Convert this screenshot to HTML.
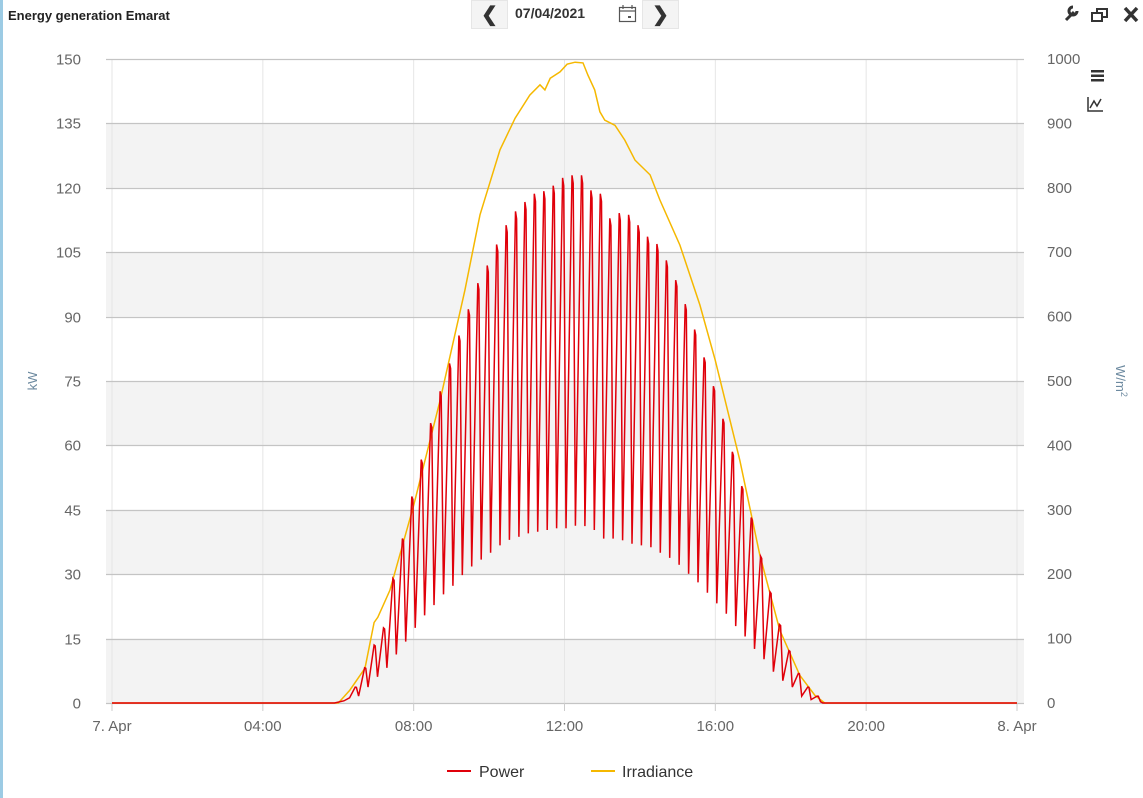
<!DOCTYPE html>
<html><head><meta charset="utf-8"><style>
body{margin:0;width:1143px;height:798px;overflow:hidden;background:#fff;font-family:"Liberation Sans",sans-serif;position:relative}
.bar{position:absolute;left:0;top:0;width:3px;height:798px;background:#9ccbe4}
.title{position:absolute;left:8px;top:8px;font-size:13px;font-weight:bold;color:#222}
.btn{position:absolute;top:0;width:37px;height:29px;background:#f4f4f4;border:1px solid #e6e6e6;box-sizing:border-box;text-align:center;font-size:20px;line-height:28px;color:#333;font-weight:bold}
.date{position:absolute;left:515px;top:5px;font-size:14px;font-weight:bold;color:#333}
svg{position:absolute;left:0;top:0}
</style></head><body>
<div class="bar"></div>
<div class="title">Energy generation Emarat</div>
<div class="btn" style="left:471px">&#10094;</div>
<div class="date">07/04/2021</div>
<div class="btn" style="left:642px">&#10095;</div>
<svg width="1143" height="798" id="chart">
<g fill="none" stroke="#555" stroke-width="1.2">
<rect x="619.5" y="7.5" width="16" height="14"/><line x1="619.5" y1="11" x2="635.5" y2="11"/><line x1="623" y1="5" x2="623" y2="9"/><line x1="632" y1="5" x2="632" y2="9"/><rect x="628" y="16" width="3" height="2" fill="#555" stroke="none"/></g>
<g><path d="M1066 20 L1074 12 M1073 7 a4 4 0 1 0 4 4" stroke="#333" stroke-width="3" fill="none"/></g>
<g fill="none" stroke="#333" stroke-width="2"><rect x="1097" y="9" width="10" height="8"/><rect x="1092" y="13" width="10" height="8" fill="#fff"/></g>
<g stroke="#333" stroke-width="3.5"><line x1="1125" y1="8" x2="1137" y2="21"/><line x1="1137" y1="8" x2="1125" y2="21"/></g>
<g fill="#333"><rect x="1091" y="70" width="13" height="2.5"/><rect x="1091" y="74.5" width="13" height="2.5"/><rect x="1091" y="79" width="13" height="2.5"/></g>
<g fill="none" stroke="#333" stroke-width="1.5"><path d="M1088 97 V111 H1103"/><path d="M1090 108 L1094 101 L1097 106 L1101 99"/></g>
</svg>
<script>
const leftTicks=[0,15,30,45,60,75,90,105,120,135,150];
const rightTicks=[0,100,200,300,400,500,600,700,800,900,1000];
const xTickHours=[0,4,8,12,16,20,24];
const xTickLabels=["7. Apr","04:00","08:00","12:00","16:00","20:00","8. Apr"];
const powerPeaks=[3.7,8.2,13.5,17.5,29,38.3,48.1,56.7,65.2,72.6,79.1,85.6,91.7,97.8,101.9,106.8,111.3,114.5,116.7,118.6,119.2,120.5,122.3,122.9,122.9,119.4,118.6,112.9,114.1,113.7,111.3,108.6,106.9,103.1,98.5,92.9,87.0,80.5,73.8,66.2,58.5,50.5,43.2,34.2,25.9,18.3,12.2,6.9,3.7,1.6];
const powerTroughs=[1.6,3.7,6.1,8.2,11.3,14.3,17.5,20.4,22.8,25.3,27.3,29.8,31.8,33.4,35.0,36.7,38.0,38.7,39.5,39.9,40.3,40.7,40.7,41.3,41.2,40.3,38.3,38.3,37.9,37.1,36.7,36.3,35.0,33.8,32.2,30.1,28.1,25.7,23.2,20.8,17.9,15.5,12.6,10.2,7.3,5.2,3.7,1.6,0.8,0.3];
const irrHours=[0,6.0,6.31,6.71,6.95,7.05,7.37,8.0,8.7,9.36,9.76,10.29,10.69,11.08,11.35,11.48,11.62,11.88,12.07,12.28,12.49,12.62,12.8,12.94,13.07,13.34,13.6,13.87,14.27,14.53,15.06,15.59,16.0,16.65,17.18,17.71,18.24,18.64,18.9,24];
const irrValues=[0,0,20,54,125,133,175,307,470,641,758,859,908,944,960,952,970,980,992,995,994,975,952,918,905,897,874,843,820,781,711,618,532,377,230,113,43,12,0,0];
const firstPeakHour=6.45, stepHour=0.25;

const NS="http://www.w3.org/2000/svg";
const svg=document.getElementById('chart');
const X0=112,X1=1017,Y0=703,Y1=59;
const xs=h=>X0+(X1-X0)*h/24;
const yl=v=>Y0-(Y0-Y1)*v/150;
const yr=v=>Y0-(Y0-Y1)*v/1000;
function mk(tag,attrs,parent){const e=document.createElementNS(NS,tag);for(const k in attrs)e.setAttribute(k,attrs[k]);(parent||svg).appendChild(e);return e;}
// bands
for(let i=0;i<leftTicks.length-1;i++){ if(i%2===0){
 const r=mk('rect',{x:106,y:yl(leftTicks[i+1]),width:918,height:yl(leftTicks[i])-yl(leftTicks[i+1]),fill:'#f3f3f3'});
 
 }}
// vertical grid
xTickHours.forEach(h=>{const l=mk('line',{x1:xs(h),x2:xs(h),y1:Y1,y2:Y0,stroke:'#e6e6e6','stroke-width':1});
 
 });
// horizontal grid + labels
leftTicks.forEach((v,i)=>{const y=Math.round(yl(v))+0.5;
 const l=mk('line',{x1:106,x2:1024,y1:y,y2:y,stroke:'#c4c4c4','stroke-width':1.3});
 
 
 const t=mk('text',{x:81,y:y+5,'text-anchor':'end','font-size':15,fill:'#666'});t.textContent=v;
 
 
 const t2=mk('text',{x:1047,y:yr(rightTicks[i])+5,'font-size':15,fill:'#666'});t2.textContent=rightTicks[i];
 
 });
xTickHours.forEach((h,i)=>{const t=mk('text',{x:xs(h),y:731,'text-anchor':'middle','font-size':15,fill:'#666'});t.textContent=xTickLabels[i];
 
 
 const tk=mk('line',{x1:xs(h),x2:xs(h),y1:Y0,y2:Y0+8,stroke:'#ccc'});
 
 });
const ax=mk('text',{x:0,y:0,transform:'translate(37,381) rotate(-90)','text-anchor':'middle','font-size':13,fill:'#6d8aa0'});ax.textContent='kW';


const ax2=mk('text',{x:0,y:0,transform:'translate(1116,381) rotate(90)','text-anchor':'middle','font-size':13,fill:'#6d8aa0'});ax2.innerHTML='W/m<tspan dy="-5" font-size="9">2</tspan>';


// irradiance
let d='';irrHours.forEach((h,i)=>{d+=(i?'L':'M')+xs(h).toFixed(1)+' '+yr(irrValues[i]).toFixed(1);});
const ir=mk('path',{d:d,fill:'none',stroke:'#f5b800','stroke-width':1.5});


// power
let pd='M'+xs(0)+' '+yl(0)+'L'+xs(5.9)+' '+yl(0)+'L'+xs(6.15)+' '+yl(0.5)+'L'+xs(6.3)+' '+yl(1.2);
powerPeaks.forEach((p,i)=>{const h=firstPeakHour+i*stepHour;
 pd+='L'+xs(h).toFixed(1)+' '+yl(p).toFixed(1)+'L'+xs(h+0.03).toFixed(1)+' '+yl(p*0.985).toFixed(1)+'L'+xs(h+0.09).toFixed(1)+' '+yl(powerTroughs[i]).toFixed(1);});
pd+='L'+xs(18.85)+' '+yl(0)+'L'+xs(24)+' '+yl(0);
const pw=mk('path',{d:pd,fill:'none',stroke:'#e0000a','stroke-width':1.5,'stroke-linejoin':'miter'});


// legend
const lg=mk('g',{});


const l1=mk('g',{},lg);


mk('line',{x1:447,x2:471,y1:771,y2:771,stroke:'#e0000a','stroke-width':2},l1);
const lt1=mk('text',{x:479,y:777,'font-size':16,fill:'#333'},l1);lt1.textContent='Power';
const l2=mk('g',{},lg);


mk('line',{x1:591,x2:615,y1:771,y2:771,stroke:'#f5b800','stroke-width':2},l2);
const lt2=mk('text',{x:622,y:777,'font-size':16,fill:'#333'},l2);lt2.textContent='Irradiance';
</script>
</body></html>
